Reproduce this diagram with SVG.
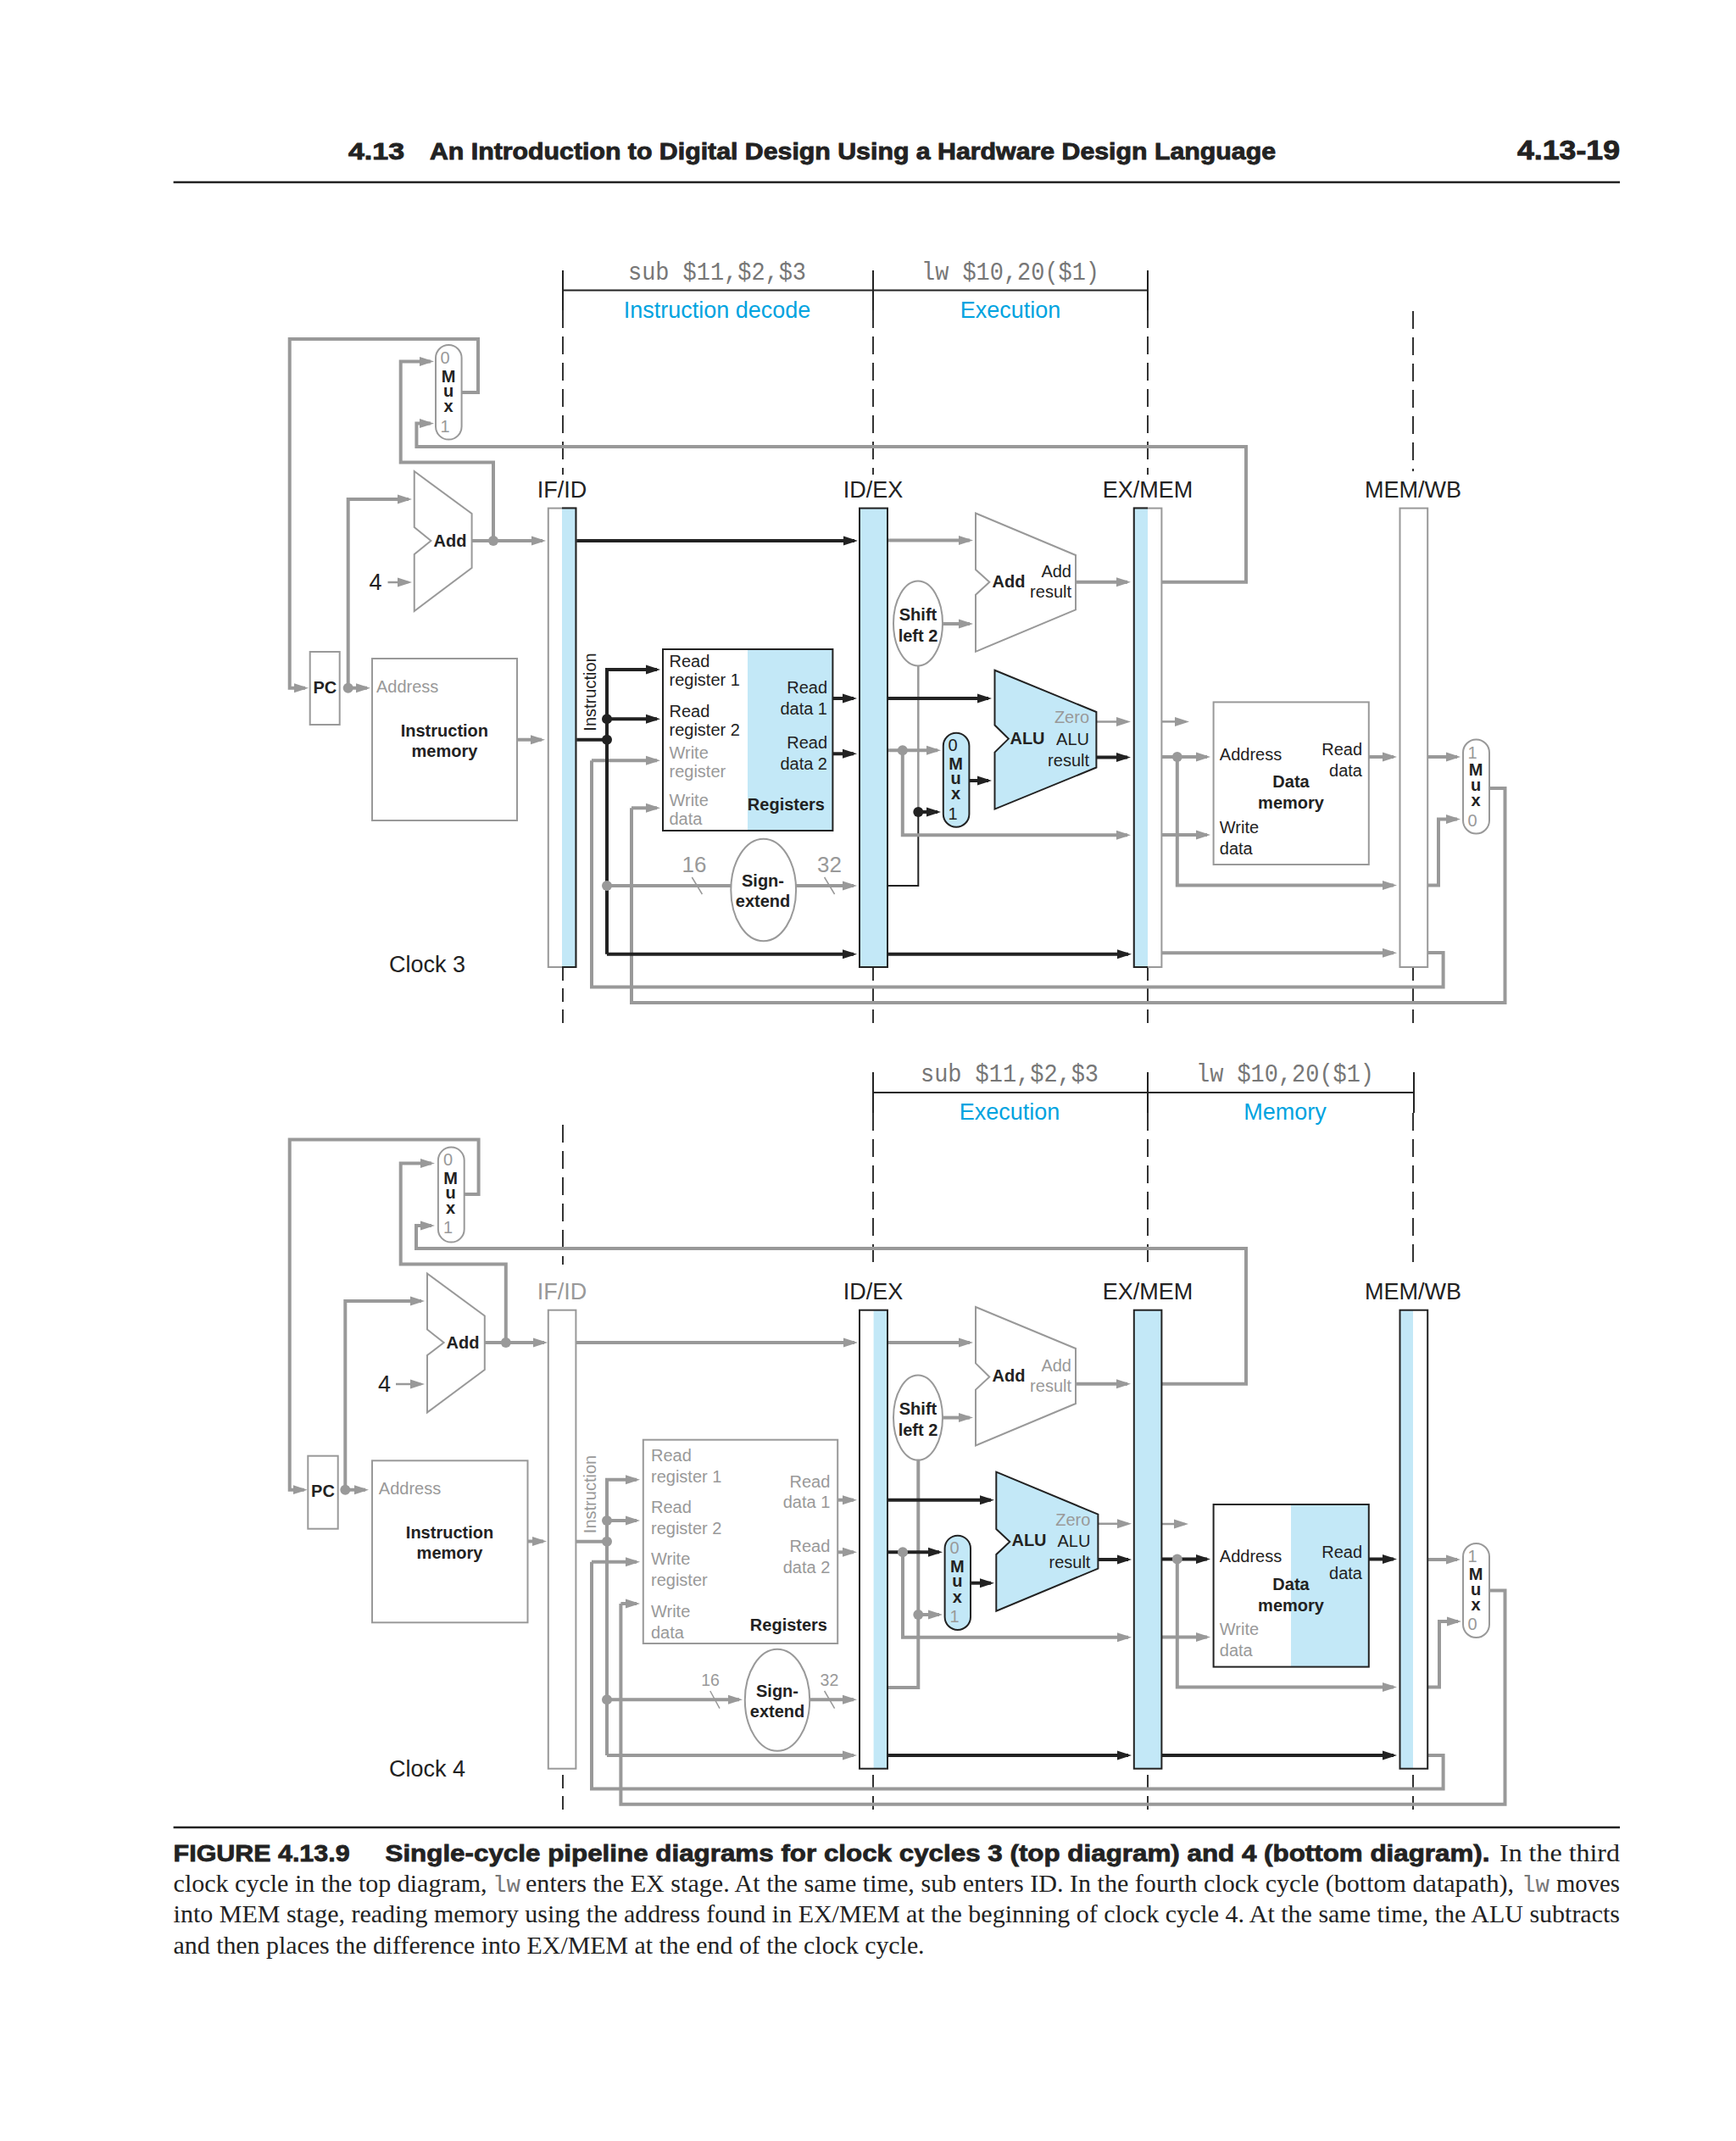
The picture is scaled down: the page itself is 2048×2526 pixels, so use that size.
<svg xmlns="http://www.w3.org/2000/svg" width="2048" height="2526" viewBox="0 0 2048 2526">
<defs>
<marker id="ag" markerUnits="userSpaceOnUse" viewBox="0 0 17 12" markerWidth="17" markerHeight="12" refX="13" refY="6" orient="auto"><path d="M0,0.5L17,6L0,11.5z" fill="#999"/></marker>
<marker id="ad" markerUnits="userSpaceOnUse" viewBox="0 0 17 12" markerWidth="17" markerHeight="12" refX="13" refY="6" orient="auto"><path d="M0,0.5L17,6L0,11.5z" fill="#222"/></marker>
</defs>
<style>
text{font-family:"Liberation Sans",Arial,sans-serif;font-size:20px;fill:#222}
.b{font-weight:bold}
.g{fill:#999}
.e{text-anchor:end}
.m{text-anchor:middle}
.big{font-size:27px}
.num{font-size:26px;fill:#999;text-anchor:middle}
.cy{font-size:27px;fill:#00a3e0;text-anchor:middle}
.mono{font-family:"Liberation Mono",monospace;font-size:30px;fill:#777}
.cap{font-family:"Liberation Serif",serif;font-size:30px;fill:#222}
.capb{font-size:28px;font-weight:bold;fill:#222;stroke:#222;stroke-width:.8}
.capm{font-family:"Liberation Mono",monospace;font-size:28px;fill:#777}
.head{font-size:28px;font-weight:bold;fill:#222;stroke:#222;stroke-width:.9}
.gw{fill:none;stroke:#999;stroke-width:4}
.gt{fill:none;stroke:#999;stroke-width:2.5}
.dw{fill:none;stroke:#222;stroke-width:4}
.dt{fill:none;stroke:#222;stroke-width:2}
.ma{marker-end:url(#ag)}
.mb{marker-end:url(#ad)}
.dot{fill:#999}
.dotd{fill:#222}
.sg{fill:#fff;stroke:#999;stroke-width:2}
.sd{fill:none;stroke:#222;stroke-width:2}
.bl{fill:#c3e8f7}
.dash{fill:none;stroke:#333;stroke-width:2;stroke-dasharray:21 10}
.dash2{fill:none;stroke:#333;stroke-width:2;stroke-dasharray:16 9}
.sol{fill:none;stroke:#222;stroke-width:2}
.sl{stroke:#999;stroke-width:1.5}
</style>

<g id="page-header">
<text class="head" x="411" y="187.5" textLength="66" lengthAdjust="spacingAndGlyphs">4.13</text>
<text class="head" x="507" y="187.5" textLength="998" lengthAdjust="spacingAndGlyphs">An Introduction to Digital Design Using a Hardware Design Language</text>
<text class="head" x="1790" y="187.5" textLength="121" lengthAdjust="spacingAndGlyphs" style="font-size:32px">4.13-19</text>
<path class="sol" style="stroke-width:2.5" d="M204.6,215H1911"/>
</g>

<g id="c3-stages">
<path class="sol" d="M664,319V366M1030,319V366M1354,319V366M664,342.5H1354"/>
<path class="dash" d="M664,366V560M1030,366V560M1354,366V560M1667,367V556"/>
<path class="dash2" d="M664,1141V1207M1030,1141V1207M1354,1141V1207M1667,1141V1207"/>
<text class="mono" x="741" y="330" textLength="210" lengthAdjust="spacingAndGlyphs">sub $11,$2,$3</text>
<text class="mono" x="1087" y="330" textLength="210" lengthAdjust="spacingAndGlyphs">lw $10,20($1)</text>
<text class="cy" x="846" y="375">Instruction decode</text>
<text class="cy" x="1192" y="375">Execution</text>
<text class="big m" x="663" y="587">IF/ID</text>
<text class="big m" x="1030" y="587">ID/EX</text>
<text class="big m" x="1354" y="587">EX/MEM</text>
<text class="big m" x="1667" y="587">MEM/WB</text>
<text class="big" x="459" y="1147">Clock 3</text>
</g>

<g id="c3-connectors">
<path class="gw ma" d="M544.6,463H564V400H341.7V811.7H360"/>
<path class="gw ma" d="M582,638V545.4H472.7V426.4H508"/>
<path class="gw ma" d="M1370,686.7H1470V527H491.4V499.6H508"/>
<path class="gw ma" d="M410.7,811.7V589H482"/>
<path class="gw ma" d="M556.6,638H640"/>
<path class="gt ma" d="M457.5,687H482"/>
<path class="gw ma" d="M410.7,811.7H433"/>
<path class="gw ma" d="M610,872.7H639"/>
<path class="gw ma" d="M1047,637.6H1144"/>
<path class="gw ma" d="M1112,736H1144"/>
<path class="gw ma" d="M1269,686.7H1330"/>
<path class="gt" d="M1083.3,785.7V958"/>
<path class="dt" d="M1047,1045H1083.3V958"/>
<path class="gw ma" d="M1047,885.3H1106"/>
<path class="gw ma" d="M1064.8,885.3V985.3H1330"/>
<path class="gt ma" d="M1293.4,851.4H1330"/>
<path class="gt ma" d="M1370.4,851.4H1399"/>
<path class="gw ma" d="M1370.4,893H1424"/>
<path class="gw ma" d="M1388.8,893V1044.5H1644"/>
<path class="gw ma" d="M1370.4,985H1424"/>
<path class="gw ma" d="M1614.8,893H1644"/>
<path class="gw ma" d="M1370.4,1124.3H1644"/>
<path class="gw ma" d="M1684.2,893H1719"/>
<path class="gw ma" d="M1684.2,1044.5H1697V966.5H1719"/>
<path class="gw" d="M1684.2,1124H1702.6V1164.5H698V897.3"/>
<path class="gw ma" d="M698,897.3H775"/>
<path class="gw" d="M1757,930H1775.5V1183H745V953.3"/>
<path class="gw ma" d="M745,953.3H775"/>
<path class="gw" d="M716,1045H862"/>
<path class="gw ma" d="M939,1045H1007"/>
<path class="sl" d="M816.3,1035L828.4,1055M972.6,1035L984.6,1055"/>
<path class="dw mb" d="M679.4,638H1008"/>
<path class="dw" d="M679.4,872.7H716"/>
<path class="dw mb" d="M716,1125.7V790H775"/>
<path class="dw mb" d="M716,848.3H775"/>
<path class="dw mb" d="M716,1125.7H1007"/>
<path class="dw mb" d="M1047,1125.7H1331"/>
<path class="dw mb" d="M982.4,824H1007"/>
<path class="dw mb" d="M982.4,889.3H1007"/>
<path class="dw mb" d="M1047,824H1166"/>
<path class="dw mb" d="M1143.4,921H1166"/>
<path class="dw mb" d="M1293.4,893.6H1330"/>
<path class="dw mb" d="M1083.3,958H1106"/>
<circle class="dot" cx="582" cy="638" r="6"/>
<circle class="dot" cx="410.7" cy="811.7" r="6"/>
<circle class="dotd" cx="716" cy="848.3" r="6"/>
<circle class="dotd" cx="716" cy="872.7" r="6"/>
<circle class="dot" cx="716" cy="1045" r="6"/>
<circle class="dot" cx="1064.8" cy="885.3" r="6"/>
<circle class="dotd" cx="1083.3" cy="958" r="6"/>
<circle class="dot" cx="1388.8" cy="893" r="6"/>
</g>

<g id="c3-pc-mux"><rect class="sg" x="514" y="407" width="30.6" height="111.6" rx="15.3"/>
<text class="g m" x="525" y="429">0</text><text class="b m" x="529" y="451">M</text><text class="b m" x="529" y="468">u</text><text class="b m" x="529" y="486">x</text><text class="g m" x="525" y="510">1</text></g>
<g id="c3-pc-add"><path class="sg" d="M488.75,556L556.6,606V670L488.75,721V654L508.4,638L488.75,622Z"/>
<text class="b m" x="531" y="645">Add</text><text class="big m" x="443" y="696">4</text></g>
<g id="c3-pc"><rect class="sg" x="365.7" y="769" width="35" height="86"/><text class="b m" x="383.4" y="818">PC</text></g>
<g id="c3-imem"><rect class="sg" x="439" y="777" width="171" height="191"/>
<text class="g" x="444" y="817">Address</text><text class="b m" x="524.4" y="869">Instruction</text><text class="b m" x="524.4" y="893">memory</text></g>
<g id="c3-if-id"><rect class="sg" x="646.8" y="599.6" width="32.6" height="541.4"/><rect class="bl" x="663" y="599.6" width="16.4" height="541.4"/>
<path class="sd" d="M663,599.6H679.4V1141H663"/>
<text transform="translate(703,816.5) rotate(-90)" class="m">Instruction</text></g>
<g id="c3-registers"><rect x="782" y="766" width="200.4" height="214" fill="#fff"/><rect class="bl" x="882" y="766" width="100.4" height="214"/><rect class="sd" x="782" y="766" width="200.4" height="214"/>
<text x="789.5" y="787">Read</text><text x="789.5" y="809">register 1</text><text x="789.5" y="846">Read</text><text x="789.5" y="868">register 2</text>
<text class="g" x="789.5" y="895">Write</text><text class="g" x="789.5" y="917">register</text><text class="g" x="789.5" y="951">Write</text><text class="g" x="789.5" y="973">data</text>
<text class="e" x="976" y="818">Read</text><text class="e" x="976" y="843">data 1</text><text class="e" x="976" y="883">Read</text><text class="e" x="976" y="908">data 2</text>
<text class="b e" x="973" y="956">Registers</text></g>
<g id="c3-sign-extend"><ellipse class="sg" cx="900.7" cy="1050" rx="38.4" ry="60.3"/>
<text class="b m" x="900" y="1046">Sign-</text><text class="b m" x="900" y="1070">extend</text>
<text class="num" x="819" y="1029">16</text><text class="num" x="978.4" y="1029">32</text></g>
<g id="c3-id-ex"><rect class="bl" x="1014" y="599.6" width="33" height="541.4"/><rect class="sd" x="1014" y="599.6" width="33" height="541.4"/></g>
<g id="c3-shift"><ellipse class="sg" cx="1083" cy="735.5" rx="29" ry="50"/><text class="b m" x="1083" y="732">Shift</text><text class="b m" x="1083" y="757">left 2</text></g>
<g id="c3-branch-add"><path class="sg" d="M1151,605.5L1269,655V719.3L1151,768.8V701.8L1167.3,686.7L1151,672Z"/>
<text class="b m" x="1190" y="693">Add</text><text class="e" x="1264" y="681">Add</text><text class="e" x="1264" y="705">result</text></g>
<g id="c3-alu"><path class="bl" style="stroke:#222;stroke-width:2" d="M1173.5,790.8L1293.4,840V905.5L1173.5,954.6V887.6L1189.8,871.6L1173.5,855.5Z"/>
<text class="b m" x="1212" y="877.5">ALU</text><text class="g e" x="1285" y="853">Zero</text><text class="e" x="1285" y="878.5">ALU</text><text class="e" x="1285" y="904">result</text></g>
<g id="c3-alu-mux"><rect class="bl" style="stroke:#222;stroke-width:2" x="1112.8" y="864.7" width="30.6" height="111" rx="15.3"/>
<text class="m" x="1124" y="886">0</text><text class="b m" x="1127.5" y="908">M</text><text class="b m" x="1127.5" y="925">u</text><text class="b m" x="1127.5" y="943">x</text><text class="m" x="1124" y="966.5">1</text></g>
<g id="c3-ex-mem"><rect class="sg" x="1337.8" y="599.6" width="32.6" height="541.4"/><rect class="bl" x="1337.8" y="599.6" width="16.2" height="541.4"/><path class="sd" d="M1354,599.6H1337.8V1141H1354"/></g>
<g id="c3-dmem"><rect class="sg" x="1431.6" y="828.4" width="183.2" height="191.6"/>
<text x="1438.8" y="897">Address</text><text class="e" x="1607" y="891">Read</text><text class="e" x="1607" y="916">data</text>
<text class="b m" x="1523" y="929">Data</text><text class="b m" x="1523" y="954">memory</text><text x="1438.8" y="983">Write</text><text x="1438.8" y="1008">data</text></g>
<g id="c3-mem-wb"><rect class="sg" x="1651.5" y="599.6" width="32.7" height="541.4"/></g>
<g id="c3-wb-mux"><rect class="sg" x="1726" y="872.5" width="31" height="111" rx="15.5"/>
<text class="g m" x="1737" y="895">1</text><text class="b m" x="1741" y="915">M</text><text class="b m" x="1741" y="932.5">u</text><text class="b m" x="1741" y="951">x</text><text class="g m" x="1737" y="975">0</text></g>

<g id="c4-stages">
<path class="sol" d="M1030,1265V1313M1354,1265V1313M1668,1265V1313M1030,1289H1668"/>
<path class="dash" d="M664,1327V1492M1030,1313V1492M1354,1313V1492M1667,1313V1492"/>
<path class="dash2" d="M664,2094V2135M1030,2094V2135M1354,2094V2135M1667,2094V2135"/>
<text class="mono" x="1086" y="1276" textLength="210" lengthAdjust="spacingAndGlyphs">sub $11,$2,$3</text>
<text class="mono" x="1411" y="1276" textLength="210" lengthAdjust="spacingAndGlyphs">lw $10,20($1)</text>
<text class="cy" x="1191" y="1321">Execution</text>
<text class="cy" x="1516" y="1321">Memory</text>
<text class="big m g" x="663" y="1533">IF/ID</text>
<text class="big m" x="1030" y="1533">ID/EX</text>
<text class="big m" x="1354" y="1533">EX/MEM</text>
<text class="big m" x="1667" y="1533">MEM/WB</text>
<text class="big" x="459" y="2096">Clock 4</text>
</g>

<g id="c4-connectors">
<path class="gw ma" d="M547.7,1409H564.6V1344.6H341.7V1757.7H358.7"/>
<path class="gw ma" d="M596.8,1584V1491.4H472.7V1372.5H509"/>
<path class="gw ma" d="M1370,1632.7H1470V1473H491V1446H509"/>
<path class="gw ma" d="M407.3,1757.7V1535H497"/>
<path class="gw ma" d="M571.8,1584H642"/>
<path class="gt ma" d="M467,1633H497"/>
<path class="gw ma" d="M407.3,1757.7H431"/>
<path class="gw ma" d="M622.5,1818.5H641"/>
<path class="gw ma" d="M679.4,1584H1008"/>
<path class="gw" d="M679.4,1818.7H716"/>
<path class="gw ma" d="M716,2071V1745.7H751"/>
<path class="gw ma" d="M716,1794H751"/>
<path class="gw ma" d="M716,2071H1007"/>
<path class="gw ma" d="M716,2005.3H872"/>
<path class="gw ma" d="M955,2005.3H1007"/>
<path class="sl" d="M837.8,1995L849,2015.7M972.6,1995L984.6,2015.7"/>
<path class="gw ma" d="M988.2,1769.7H1007"/>
<path class="gw ma" d="M988.2,1831.3H1007"/>
<path class="gw" d="M1684,2071H1702.6V2110.6H698V1842.7"/>
<path class="gw ma" d="M698,1842.7H751"/>
<path class="gw" d="M1757,1876.4H1775.5V2128.8H732.4V1892"/>
<path class="gw ma" d="M732.4,1892H751"/>
<path class="gw ma" d="M1047,1584H1144"/>
<path class="gw ma" d="M1112,1672.6H1144"/>
<path class="gw ma" d="M1269,1632.7H1330"/>
<path class="gw" d="M1083.3,1722.3V1991H1047"/>
<path class="gw ma" d="M1083.3,1905H1108"/>
<path class="gw ma" d="M1065,1831.3V1931.7H1331"/>
<path class="gt ma" d="M1295.4,1797.7H1331"/>
<path class="gt ma" d="M1370.4,1798H1398"/>
<path class="gw ma" d="M1388.8,1839.5V1990.5H1644"/>
<path class="gw ma" d="M1370.4,1931.5H1424"/>
<path class="gw ma" d="M1684.2,1840H1719"/>
<path class="gw ma" d="M1684.2,1990.5H1698V1913H1720"/>
<path class="dw mb" d="M1047,1769.7H1169"/>
<path class="dw mb" d="M1047,1831.3H1108"/>
<path class="dw mb" d="M1145,1867.7H1169"/>
<path class="dw mb" d="M1295.4,1840H1331"/>
<path class="dw mb" d="M1370.4,1839.5H1424"/>
<path class="dw mb" d="M1614.8,1839.5H1644"/>
<path class="dw mb" d="M1047,2071H1331"/>
<path class="dw mb" d="M1370.4,2071H1644"/>
<circle class="dot" cx="596.8" cy="1584" r="6"/>
<circle class="dot" cx="407.3" cy="1757.7" r="6"/>
<circle class="dot" cx="716" cy="1794" r="6"/>
<circle class="dot" cx="716" cy="1818.7" r="6"/>
<circle class="dot" cx="716" cy="2005.3" r="6"/>
<circle class="dot" cx="1065" cy="1831.3" r="6"/>
<circle class="dot" cx="1083.3" cy="1905" r="6"/>
<circle class="dot" cx="1388.8" cy="1839.5" r="6"/>
</g>

<g id="c4-pc-mux"><rect class="sg" x="516.9" y="1353.6" width="30.8" height="112" rx="15.4"/>
<text class="g m" x="528.5" y="1375">0</text><text class="b m" x="531.6" y="1397">M</text><text class="b m" x="531.6" y="1414">u</text><text class="b m" x="531.6" y="1432">x</text><text class="g m" x="528.5" y="1455">1</text></g>
<g id="c4-pc-add"><path class="sg" d="M504,1502.5L571.8,1552.5V1616L504,1666.4V1599L523.6,1584L504,1568.6Z"/>
<text class="b m" x="546" y="1591">Add</text><text class="big m" x="453.5" y="1642">4</text></g>
<g id="c4-pc"><rect class="sg" x="363.3" y="1717.7" width="35.4" height="86"/><text class="b m" x="381" y="1765.5">PC</text></g>
<g id="c4-imem"><rect class="sg" x="439" y="1723.3" width="183.5" height="191"/>
<text class="g" x="446.8" y="1763">Address</text><text class="b m" x="530.5" y="1815">Instruction</text><text class="b m" x="530.5" y="1839">memory</text></g>
<g id="c4-if-id"><rect class="sg" x="646.8" y="1545.7" width="32.6" height="541"/>
<text transform="translate(703,1763) rotate(-90)" class="m g">Instruction</text></g>
<g id="c4-registers"><rect class="sg" x="758.8" y="1698.7" width="229.4" height="240.3"/>
<text class="g" x="768" y="1723.5">Read</text><text class="g" x="768" y="1748.5">register 1</text><text class="g" x="768" y="1785">Read</text><text class="g" x="768" y="1810">register 2</text>
<text class="g" x="768" y="1846">Write</text><text class="g" x="768" y="1871">register</text><text class="g" x="768" y="1907.5">Write</text><text class="g" x="768" y="1932.5">data</text>
<text class="g e" x="979.3" y="1754.5">Read</text><text class="g e" x="979.3" y="1779">data 1</text><text class="g e" x="979.3" y="1831">Read</text><text class="g e" x="979.3" y="1856">data 2</text>
<text class="b e" x="976" y="1923.5">Registers</text></g>
<g id="c4-sign-extend"><ellipse class="sg" cx="917" cy="2005.8" rx="38.2" ry="60"/>
<text class="b m" x="917" y="2002">Sign-</text><text class="b m" x="917" y="2026">extend</text>
<text class="num" style="font-size:19.5px" x="838" y="1989">16</text><text class="num" style="font-size:19.5px" x="978.4" y="1989">32</text></g>
<g id="c4-id-ex"><rect fill="#fff" x="1014" y="1545.7" width="33" height="541"/><rect class="bl" x="1030.6" y="1545.7" width="16.4" height="541"/><rect class="sd" x="1014" y="1545.7" width="33" height="541"/></g>
<g id="c4-shift"><ellipse class="sg" cx="1083" cy="1672.6" rx="29" ry="50"/><text class="b m" x="1083" y="1669">Shift</text><text class="b m" x="1083" y="1693.5">left 2</text></g>
<g id="c4-branch-add"><path class="sg" d="M1151,1542L1269,1591V1656L1151,1705.5V1639.6L1167.3,1624.5L1151,1608.4Z"/>
<text class="b m" x="1190" y="1629.5">Add</text><text class="g e" x="1264" y="1617.5">Add</text><text class="g e" x="1264" y="1642">result</text></g>
<g id="c4-alu"><path class="bl" style="stroke:#222;stroke-width:2" d="M1175.3,1736.7L1295.4,1786.7V1850.7L1175.3,1900.7V1834L1191.3,1819L1175.3,1804Z"/>
<text class="b m" x="1214" y="1823.5">ALU</text><text class="g e" x="1286.4" y="1799.5">Zero</text><text class="e" x="1286.4" y="1824.5">ALU</text><text class="e" x="1286.4" y="1849.5">result</text></g>
<g id="c4-alu-mux"><rect class="bl" style="stroke:#222;stroke-width:2" x="1114.6" y="1811.7" width="30.4" height="111.3" rx="15.2"/>
<text class="g m" x="1126" y="1832.5">0</text><text class="b m" x="1129.3" y="1854.5">M</text><text class="b m" x="1129.3" y="1872">u</text><text class="b m" x="1129.3" y="1891">x</text><text class="g m" x="1126" y="1913.5">1</text></g>
<g id="c4-ex-mem"><rect class="bl" x="1337.8" y="1545.7" width="32.6" height="541"/><rect class="sd" x="1337.8" y="1545.7" width="32.6" height="541"/></g>
<g id="c4-dmem"><rect x="1431.6" y="1775" width="183.2" height="191.6" fill="#fff"/><rect class="bl" x="1523" y="1775" width="91.8" height="191.6"/><rect class="sd" x="1431.6" y="1775" width="183.2" height="191.6"/>
<text x="1438.8" y="1843">Address</text><text class="e" x="1607" y="1838">Read</text><text class="e" x="1607" y="1862.5">data</text>
<text class="b m" x="1523" y="1875.5">Data</text><text class="b m" x="1523" y="1900.5">memory</text><text class="g" x="1438.8" y="1929">Write</text><text class="g" x="1438.8" y="1953.5">data</text></g>
<g id="c4-mem-wb"><rect fill="#fff" x="1651.5" y="1545.7" width="32.7" height="541"/><rect class="bl" x="1651.5" y="1545.7" width="15.5" height="541"/><rect class="sd" x="1651.5" y="1545.7" width="32.7" height="541"/></g>
<g id="c4-wb-mux"><rect class="sg" x="1726" y="1821" width="31" height="111" rx="15.5"/>
<text class="g m" x="1737" y="1843">1</text><text class="b m" x="1741" y="1864">M</text><text class="b m" x="1741" y="1882">u</text><text class="b m" x="1741" y="1900">x</text><text class="g m" x="1737" y="1923">0</text></g>

<g id="caption">
<path d="M204.6,2156H1911" fill="none" stroke="#222" stroke-width="2.5"/>
<text class="capb" x="204.6" y="2196" textLength="208" lengthAdjust="spacingAndGlyphs">FIGURE 4.13.9</text>
<text class="capb" x="454.5" y="2196" textLength="1303" lengthAdjust="spacingAndGlyphs">Single-cycle pipeline diagrams for clock cycles 3 (top diagram) and 4 (bottom diagram).</text>
<text class="cap" x="1769" y="2196" textLength="142" lengthAdjust="spacingAndGlyphs">In the third</text>
<text class="cap" x="204.6" y="2232" textLength="370" lengthAdjust="spacingAndGlyphs">clock cycle in the top diagram,</text>
<text class="capm" x="581" y="2232" textLength="33" lengthAdjust="spacingAndGlyphs">lw</text>
<text class="cap" x="620" y="2232" textLength="1166" lengthAdjust="spacingAndGlyphs">enters the EX stage. At the same time, sub enters ID. In the fourth clock cycle (bottom datapath),</text>
<text class="capm" x="1795" y="2232" textLength="33" lengthAdjust="spacingAndGlyphs">lw</text>
<text class="cap" x="1836" y="2232" textLength="75" lengthAdjust="spacingAndGlyphs">moves</text>
<text class="cap" x="204.6" y="2268" textLength="1706.4" lengthAdjust="spacingAndGlyphs">into MEM stage, reading memory using the address found in EX/MEM at the beginning of clock cycle 4. At the same time, the ALU subtracts</text>
<text class="cap" x="204.6" y="2305" textLength="886" lengthAdjust="spacingAndGlyphs">and then places the difference into EX/MEM at the end of the clock cycle.</text>
</g>
</svg>
